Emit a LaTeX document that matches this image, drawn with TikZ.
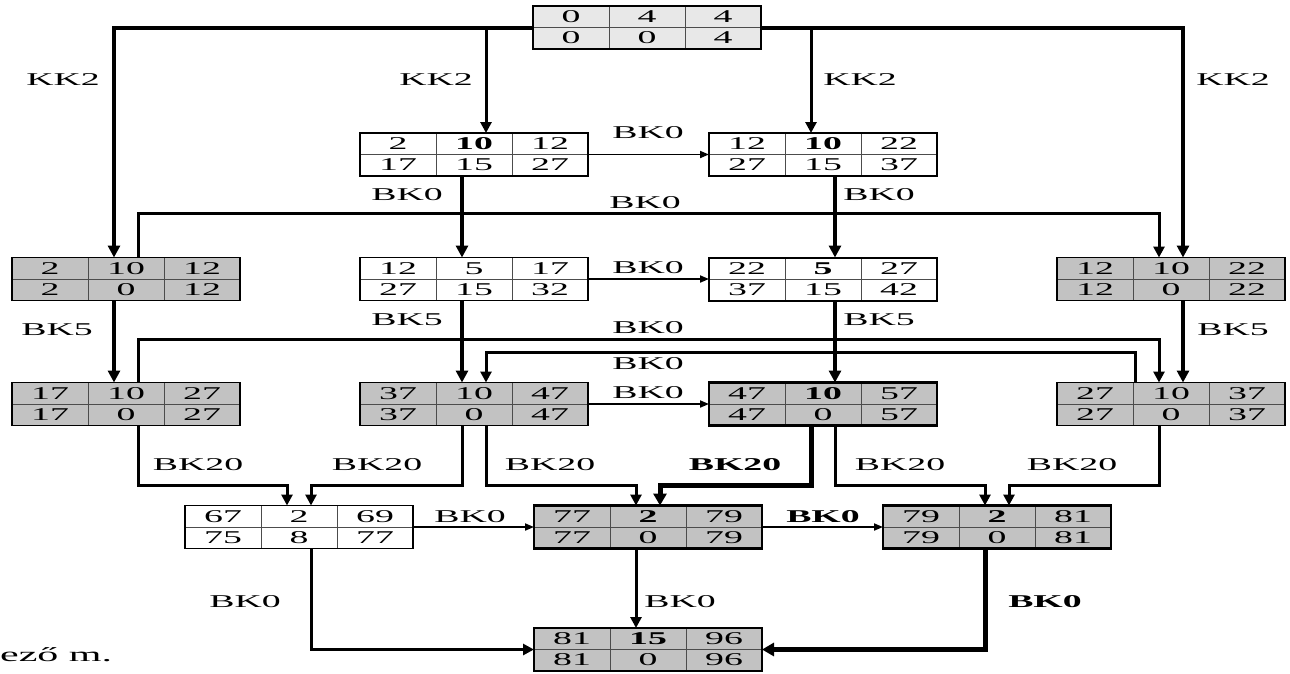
\documentclass[tikz,border=0pt]{standalone}
\usepackage{fontspec}
\setmainfont[FakeStretch=2.1]{Liberation Serif}
\usetikzlibrary{arrows.meta,calc}
\tikzset{
  box/.style={draw=black, line width=1.2pt, minimum width=228pt, minimum height=43pt,
    inner sep=0pt, outer sep=0pt,
    path picture={
      \draw[div] ($(path picture bounding box.north west)!1/3!(path picture bounding box.north east)$) -- ($(path picture bounding box.south west)!1/3!(path picture bounding box.south east)$);
      \draw[div] ($(path picture bounding box.north west)!2/3!(path picture bounding box.north east)$) -- ($(path picture bounding box.south west)!2/3!(path picture bounding box.south east)$);
      \draw[div] (path picture bounding box.west) -- (path picture bounding box.east);
    }},
  div/.style={draw=black!70, line width=0.9pt},
  wbox/.style={box, fill=white},
  gbox/.style={box, fill=black!24},
  tbox/.style={box, fill=black!9},
  heavybox/.style={line width=2.4pt},
  num/.style={font=\fontsize{18}{20}\selectfont, inner sep=0pt},
  lab/.style={font=\fontsize{18}{20}\selectfont, inner sep=0pt},
  blab/.style={font=\fontsize{18}{20}\selectfont\bfseries, inner sep=0pt},
  thin/.style={line width=1.8pt, -{Triangle[length=9pt,width=7pt]}},
  mid/.style={line width=3pt, -{Triangle[length=11pt,width=11pt]}},
  thick/.style={line width=4pt, -{Triangle[length=12pt,width=12pt]}},
  heavy/.style={line width=5pt, -{Triangle[length=12pt,width=13pt]}},
}
\newcommand\cpmbox[9]{%
  \node[#3] (#1) at #2 {};
  \node[num] (#1a) at ($(#1.center)+(-76,-10.5)$) {#4};
  \node[num] (#1b) at ($(#1.center)+(0,-10.5)$) {#5};
  \node[num] (#1c) at ($(#1.center)+(76,-10.5)$) {#6};
  \node[num] (#1d) at ($(#1.center)+(-76,10.5)$) {#7};
  \node[num] (#1e) at ($(#1.center)+(0,10.5)$) {#8};
  \node[num] (#1f) at ($(#1.center)+(76,10.5)$) {#9};
}
\begin{document}
\begin{tikzpicture}[x=1pt,y=-1pt]
\useasboundingbox (0,0) rectangle (1290,673);
% boxes
\cpmbox{T}{(647,27.5)}{tbox}{0}{4}{4}{0}{0}{4}
\cpmbox{A}{(474,154.5)}{wbox}{2}{\textbf{10}}{12}{17}{15}{27}
\cpmbox{B}{(823,154.5)}{wbox,line width=2pt}{12}{\textbf{10}}{22}{27}{15}{37}
\cpmbox{L3}{(126,279)}{gbox}{2}{10}{12}{2}{0}{12}
\cpmbox{C}{(474,279)}{wbox}{12}{5}{17}{27}{15}{32}
\cpmbox{D}{(823,279)}{wbox,line width=2pt}{22}{\textbf{5}}{27}{37}{15}{42}
\cpmbox{R3}{(1171,279)}{gbox}{12}{10}{22}{12}{0}{22}
\cpmbox{L4}{(126,404)}{gbox}{17}{10}{27}{17}{0}{27}
\cpmbox{E}{(474,404)}{gbox}{37}{10}{47}{37}{0}{47}
\cpmbox{F}{(823,404)}{gbox,heavybox}{47}{\textbf{10}}{57}{47}{0}{57}
\cpmbox{R4}{(1171,404)}{gbox}{27}{10}{37}{27}{0}{37}
\cpmbox{G}{(299,527)}{wbox}{67}{2}{69}{75}{8}{77}
\cpmbox{H}{(648,527)}{gbox,heavybox}{77}{\textbf{2}}{79}{77}{0}{79}
\cpmbox{I}{(997,527)}{gbox,heavybox}{79}{\textbf{2}}{81}{79}{0}{81}
\cpmbox{J}{(648,649.5)}{gbox,line width=2pt}{81}{\textbf{15}}{96}{81}{0}{96}
% KK2 connectors
\draw[thick] (T.west) -| ($(L3.north)+(-12,0)$);
\draw[mid] (T.west) -| ($(A.north)+(12,0)$);
\draw[mid] (T.east) -| ($(B.north)+(-12,0)$);
\draw[thick] (T.east) -| ($(R3.north)+(12,0)$);
\node[lab] (k1) at (63,80) {KK2};
\node[lab] (k2) at (436,80) {KK2};
\node[lab] (k3) at (860,80) {KK2};
\node[lab] (k4) at (1233,80) {KK2};
% row 2
\draw[thin] (A.east) -- (B.west);
\node[lab] (l1) at (648,133) {BK0};
\draw[thick] ($(A.south)+(-12,0)$) -- ($(C.north)+(-12,0)$);
\draw[thick] ($(B.south)+(12,0)$) -- ($(D.north)+(12,0)$);
\node[lab] (l2) at (407,195) {BK0};
\node[lab] (l3) at (879,195) {BK0};
\draw[mid] ($(L3.north)+(12,0)$) -- ++(0,-44) -| ($(R3.north)+(-12,0)$);
\node[lab] (l4) at (645,203) {BK0};
% row 3
\draw[thin] (C.east) -- (D.west);
\node[lab] (l5) at (648,268) {BK0};
\draw[thick] ($(L3.south)+(-12,0)$) -- ($(L4.north)+(-12,0)$);
\draw[thick] ($(C.south)+(-12,0)$) -- ($(E.north)+(-12,0)$);
\draw[thick] ($(D.south)+(12,0)$) -- ($(F.north)+(12,0)$);
\draw[thick] ($(R3.south)+(12,0)$) -- ($(R4.north)+(12,0)$);
\node[lab] (l6) at (57,330) {BK5};
\node[lab] (l7) at (407,320) {BK5};
\node[lab] (l8) at (879,320) {BK5};
\node[lab] (l9) at (1233,330) {BK5};
\draw[mid] ($(L4.north)+(12,0)$) -- ++(0,-43) -| ($(R4.north)+(-12,0)$);
\node[lab] (l10) at (648,328) {BK0};
\draw[mid] ($(R4.north)+(-36,0)$) -- ++(0,-30) -| ($(E.north)+(12,0)$);
\node[lab] (l11) at (648,364) {BK0};
% row 4
\draw[thin] (E.east) -- (F.west);
\node[lab] (l12) at (648,393) {BK0};
\draw[mid] ($(L4.south)+(12,0)$) -- ++(0,60) -| ($(G.north)+(-12,0)$);
\draw[mid] ($(E.south)+(-12,0)$) -- ++(0,60) -| ($(G.north)+(12,0)$);
\draw[mid] ($(E.south)+(12,0)$) -- ++(0,60) -| ($(H.north)+(-12,0)$);
\draw[heavy] ($(F.south)+(-12,0)$) -- ++(0,60) -| ($(H.north)+(12,0)$);
\draw[mid] ($(F.south)+(12,0)$) -- ++(0,60) -| ($(I.north)+(-12,0)$);
\draw[mid] ($(R4.south)+(-12,0)$) -- ++(0,60) -| ($(I.north)+(12,0)$);
\node[lab] (m1) at (198,465) {BK20};
\node[lab] (m2) at (377,465) {BK20};
\node[lab] (m3) at (550,465) {BK20};
\node[blab] (m4) at (735,465) {BK20};
\node[lab] (m5) at (900,465) {BK20};
\node[lab] (m6) at (1072,465) {BK20};
% row 5
\draw[thin] (G.east) -- (H.west);
\node[lab] (n1) at (470,517) {BK0};
\draw[thin] (H.east) -- (I.west);
\node[blab] (n2) at (823,517) {BK0};
\draw[mid] ($(G.south)+(12,0)$) |- (J.west);
\draw[mid] ($(H.south)+(-12,0)$) -- ($(J.north)+(-12,0)$);
\draw[heavy] ($(I.south)+(-12,0)$) |- (J.east);
\node[lab] (n3) at (245,602) {BK0};
\node[lab] (n4) at (680,602) {BK0};
\node[blab] (n5) at (1045,602) {BK0};
\node[font=\fontsize{20}{22}\selectfont, inner sep=0pt, anchor=west] (cap) at (0,655) {ező m.};
\end{tikzpicture}
\end{document}
